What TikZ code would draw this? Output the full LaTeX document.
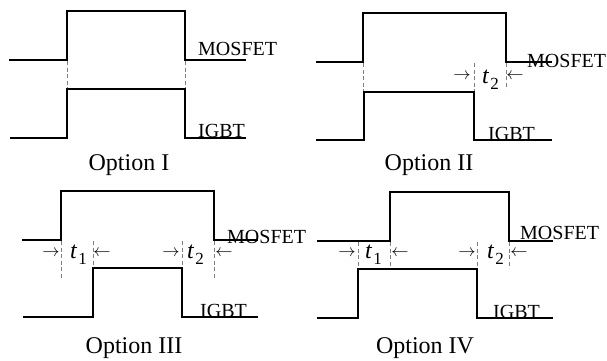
\documentclass[tikz,border=0pt]{standalone}
\usepackage{fontspec}
\setmainfont{Liberation Serif}
\newcommand{\tlab}[1]{\textit{t}\kern1pt\raisebox{-6pt}{\fontsize{17}{17}\selectfont #1}}
\begin{document}
\begin{tikzpicture}[x=1pt,y=-1pt,
  wave/.style={line width=1.9pt,line join=miter},
  guide/.style={gray,line width=0.8pt,dash pattern=on 4pt off 2.5pt},
  siglab/.style={anchor=base west,inner sep=0pt,text depth=0pt,font=\fontsize{20}{20}\selectfont},
  optlab/.style={anchor=base,inner sep=0pt,font=\fontsize{24}{24}\selectfont},
  tl/.style={anchor=base west,inner sep=0pt,font=\fontsize{24}{24}\selectfont},
  arr/.style={inner sep=0pt,font=\fontsize{16}{16}\selectfont}]
\useasboundingbox (0,0) rectangle (607,360);
% ---------- Option I ----------
\draw[wave] (9,60) -- (67,60) -- (67,11) -- (185,11) -- (185,60) -- (246,60);
\draw[wave] (10,138) -- (67,138) -- (67,89) -- (185,89) -- (185,138) -- (246,138);
\draw[guide] (67,61) -- (67,88);
\draw[guide] (185,61) -- (185,88);
\node[siglab] (m1) at (198,55) {MOSFET};
\node[siglab] (i1) at (198,137) {IGBT};
\node[optlab] (o1) at (129,170) {Option I};
% ---------- Option II ----------
\draw[wave] (316,62) -- (363,62) -- (363,13) -- (506,13) -- (506,62) -- (552,62);
\draw[wave] (316,140) -- (364,140) -- (364,92) -- (474,92) -- (474,140) -- (552,140);
\draw[guide] (363,63) -- (363,91);
\draw[guide] (474,63) -- (474,91);
\draw[guide] (506,63) -- (506,89);
\node[siglab] (m2) at (527,67) {MOSFET};
\node[siglab] (i2) at (488,140) {IGBT};
\node[optlab] (o2) at (429,170) {Option II};
\node[arr] (a21) at (462,76) {$\rightarrow$};
\node[tl] (t2b) at (482,83) {\tlab{2}};
\node[arr] (a22) at (515,76) {$\leftarrow$};
% ---------- Option III ----------
\draw[wave] (22,240) -- (61,240) -- (61,191) -- (214,191) -- (214,240) -- (258,240);
\draw[wave] (23,317) -- (93,317) -- (93,268) -- (182,268) -- (182,317) -- (258,317);
\draw[guide] (61,241) -- (61,278);
\draw[guide] (93,241) -- (93,267);
\draw[guide] (182,241) -- (182,267);
\draw[guide] (214,241) -- (214,278);
\node[siglab] (m3) at (227,243) {MOSFET};
\node[siglab] (i3) at (200,317) {IGBT};
\node[optlab] (o3) at (134,353) {Option III};
\node[arr] (a31) at (51,253) {$\rightarrow$};
\node[tl] (t31) at (70,258) {\tlab{1}};
\node[arr] (a32) at (102,253) {$\leftarrow$};
\node[arr] (a33) at (171,253) {$\rightarrow$};
\node[tl] (t32) at (187,258) {\tlab{2}};
\node[arr] (a34) at (224,253) {$\leftarrow$};
% ---------- Option IV ----------
\draw[wave] (317,241) -- (390,241) -- (390,192) -- (509,192) -- (509,241) -- (553,241);
\draw[wave] (317,318) -- (358,318) -- (358,269) -- (477,269) -- (477,318) -- (553,318);
\draw[guide] (358,242) -- (358,268);
\draw[guide] (390,242) -- (390,268);
\draw[guide] (477,242) -- (477,268);
\draw[guide] (509,242) -- (509,268);
\node[siglab] (m4) at (520,239) {MOSFET};
\node[siglab] (i4) at (493,318) {IGBT};
\node[optlab] (o4) at (425,353) {Option IV};
\node[arr] (a41) at (347,253) {$\rightarrow$};
\node[tl] (t41) at (365,258) {\tlab{1}};
\node[arr] (a42) at (400,253) {$\leftarrow$};
\node[arr] (a43) at (467,253) {$\rightarrow$};
\node[tl] (t42) at (487,258) {\tlab{2}};
\node[arr] (a44) at (519,253) {$\leftarrow$};
\end{tikzpicture}
\end{document}
